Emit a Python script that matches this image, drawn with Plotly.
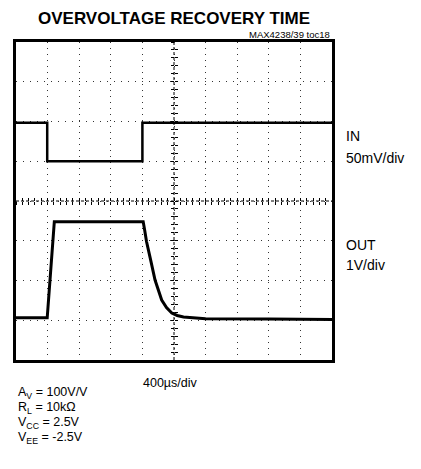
import plotly.graph_objects as go

# ---- data (time in microseconds, amplitude in screen divisions from bottom) ----
TIME_PER_DIV_US = 400
in_time_us = [0, 395, 395, 1600, 1600, 4000]
in_level_div = [5.97, 5.97, 5.0, 5.0, 5.97, 5.97]

out_time_us = [0, 395, 485, 1610, 1630, 1652, 1704, 1760, 1844, 1905, 1972, 2040, 2120, 2400, 3200, 4000]
out_level_div = [1.06, 1.06, 3.48, 3.48, 3.25, 2.98, 2.52, 2.01, 1.51, 1.32, 1.18, 1.12, 1.08, 1.04, 1.03, 1.02]

title_text = "OVERVOLTAGE RECOVERY TIME"
note_text = "MAX4238/39 toc18"
channel_labels = [("IN", "50mV/div"), ("OUT", "1V/div")]
timebase_label = "400µs/div"
conditions = ["A<sub>V</sub> = 100V/V", "R<sub>L</sub> = 10kΩ",
              "V<sub>CC</sub> = 2.5V", "V<sub>EE</sub> = -2.5V"]

# ---- figure ----
W, H = 421, 469
L, R, T, B = 16, 332, 42, 360
FONT = "Liberation Sans, Arial, sans-serif"

def py(p):  # pixel y -> paper y
    return (B - p) / (B - T)

def px(p):  # pixel x -> paper x
    return (p - L) / (R - L)

fig = go.Figure()
fig.add_trace(go.Scatter(x=in_time_us, y=in_level_div, mode="lines",
                         line=dict(color="black", width=2.5), showlegend=False, hoverinfo="skip"))
fig.add_trace(go.Scatter(x=out_time_us, y=out_level_div, mode="lines",
                         line=dict(color="black", width=3), showlegend=False, hoverinfo="skip"))
# invisible traces to anchor graticule tick axes
for xa, ya in [("x2", "y"), ("x3", "y"), ("x", "y2"), ("x", "y3")]:
    fig.add_trace(go.Scatter(x=[], y=[], xaxis=xa, yaxis=ya, showlegend=False, hoverinfo="skip"))

xr = [0, 10 * TIME_PER_DIV_US]
yr = [0, 8]
common_x = dict(range=xr, showticklabels=False, zeroline=False, fixedrange=True)
common_y = dict(range=yr, showticklabels=False, zeroline=False, fixedrange=True)

fig.update_layout(
    width=W, height=H,
    margin=dict(l=L, r=W - R, t=T, b=H - B, pad=0),
    paper_bgcolor="white", plot_bgcolor="white",
    font=dict(family=FONT, color="black"),
    xaxis=dict(**common_x, domain=[0, 1], dtick=TIME_PER_DIV_US, tick0=0, ticks="",
               showgrid=True, gridcolor="#333", gridwidth=1, griddash="1px,5px",
               showline=True, linecolor="black", linewidth=3, mirror=True),
    yaxis=dict(**common_y, domain=[0, 1], dtick=1, tick0=0, ticks="",
               showgrid=True, gridcolor="#333", gridwidth=1, griddash="1px,6px",
               showline=True, linecolor="black", linewidth=3, mirror=True),
    xaxis2=dict(**common_x, overlaying="x", anchor="free", position=0.5, side="bottom",
                dtick=TIME_PER_DIV_US / 5, tick0=0, ticks="inside", ticklen=3, tickwidth=1,
                tickcolor="black", showgrid=False, showline=False),
    xaxis3=dict(**common_x, overlaying="x", anchor="free", position=0.5, side="bottom",
                dtick=TIME_PER_DIV_US / 5, tick0=0, ticks="outside", ticklen=3, tickwidth=1,
                tickcolor="black", showgrid=False, showline=False),
    yaxis2=dict(**common_y, overlaying="y", anchor="free", position=0.5, side="left",
                dtick=0.2, tick0=0, ticks="inside", ticklen=3, tickwidth=1,
                tickcolor="black", showgrid=False, showline=False),
    yaxis3=dict(**common_y, overlaying="y", anchor="free", position=0.5, side="left",
                dtick=0.2, tick0=0, ticks="outside", ticklen=3, tickwidth=1,
                tickcolor="black", showgrid=False, showline=False),
)

# center graticule lines
fig.add_shape(type="line", xref="paper", yref="paper", x0=0, x1=1, y0=0.5, y1=0.5,
              line=dict(color="black", width=1, dash="3px,2px"), layer="below")
fig.add_shape(type="line", xref="paper", yref="paper", x0=0.5, x1=0.5, y0=0, y1=1,
              line=dict(color="black", width=1, dash="3px,2px"), layer="below")

ann = []
ann.append(dict(text="<b>" + title_text + "</b>", x=px(174), y=py(19), xanchor="center",
                yanchor="middle", font=dict(size=17, family=FONT)))
ann.append(dict(text=note_text, x=1, y=py(34.5), xanchor="right", yanchor="middle",
                font=dict(size=9.5, family=FONT)))
label_y = [(136, 158), (245, 265)]
for (name, scale), (y1, y2) in zip(channel_labels, label_y):
    ann.append(dict(text=name, x=px(344), y=py(y1), xanchor="left", yanchor="middle",
                    font=dict(size=14, family=FONT)))
    ann.append(dict(text=scale, x=px(344), y=py(y2), xanchor="left", yanchor="middle",
                    font=dict(size=14, family=FONT)))
ann.append(dict(text=timebase_label, x=px(170), y=py(383), xanchor="center", yanchor="middle",
                font=dict(size=12.5, family=FONT)))
for i, c in enumerate(conditions):
    ann.append(dict(text=c, x=px(16), y=py(393 + 15 * i), xanchor="left", yanchor="middle",
                    font=dict(size=12.5, family=FONT)))
for a in ann:
    a.update(xref="paper", yref="paper", showarrow=False)
fig.update_layout(annotations=ann)

fig.write_html("out.html", config={"displayModeBar": False},
               post_script="document.body.style.margin='0px';")
